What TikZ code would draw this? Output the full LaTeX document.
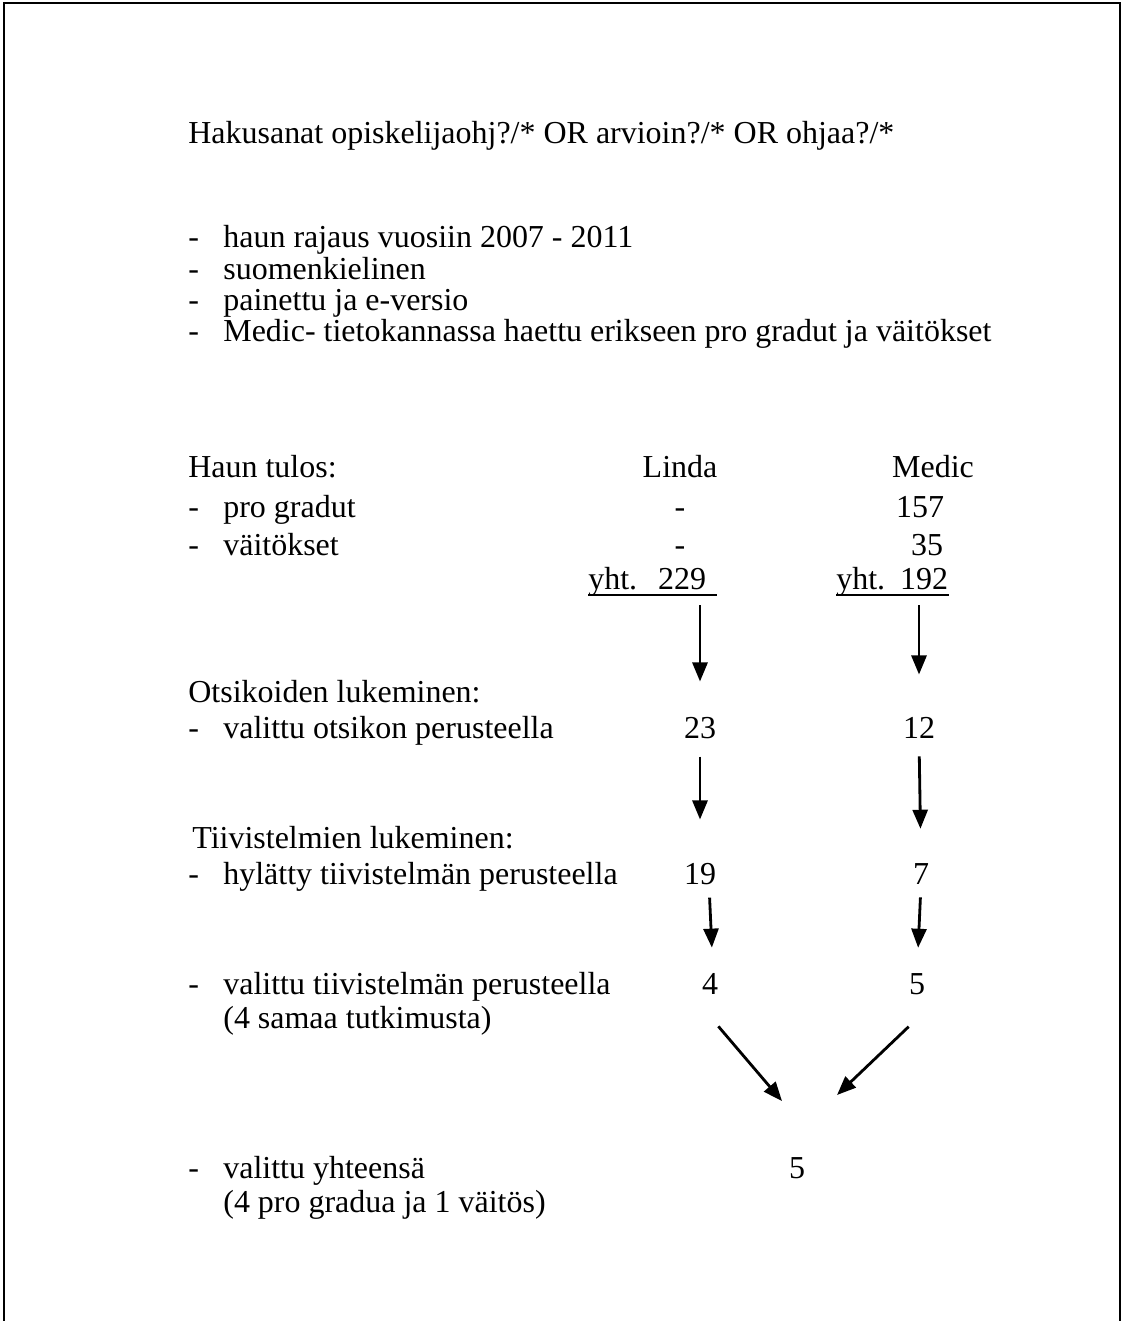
\documentclass[tikz,border=0pt]{standalone}
\usepackage{fontspec}
\setmainfont{Liberation Serif}
\usetikzlibrary{arrows.meta}
\tikzstyle{arrow} = [line width=1.6pt,-{Triangle[length=0.38cm,width=0.3cm]}]
\tikzstyle{lft} = [anchor=base west]
\tikzstyle{num} = [anchor=base]
\tikzstyle{uline} = [line width=1pt]

\begin{document}
\begin{tikzpicture}[x=0.02cm, y=-0.02cm,
  every node/.style={inner sep=0pt, font=\fontsize{18.2}{21}\selectfont}]
\useasboundingbox (0,0) rectangle (1123,1321);
\draw [line width=1.6pt] (4,1321) -- (4,3) -- (1120,3) -- (1120,1321);

% search terms and limits
\node[lft] (hak) at (188,144) {Hakusanat opiskelijaohj?/* OR arvioin?/* OR ohjaa?/*};
\node[lft] (d1) at (188,247) {-};
\node[lft] (r1) at (223,247) {haun rajaus vuosiin 2007 - 2011};
\node[lft] (d2) at (188,279) {-};
\node[lft] (r2) at (223,279) {suomenkielinen};
\node[lft] (d3) at (188,310) {-};
\node[lft] (r3) at (223,310) {painettu ja e-versio};
\node[lft] (d4) at (188,341) {-};
\node[lft] (r4) at (223,341) {Medic- tietokannassa haettu erikseen pro gradut ja väitökset};

% results
\node[lft] (tulos) at (188,477) {Haun tulos:};
\node[num] (linda) at (680,477) {Linda};
\node[num] (medic) at (933,477) {Medic};
\node[lft] (d5) at (188,517) {-};
\node[lft] (pg) at (223,517) {pro gradut};
\node[num] (lpg) at (680,517) {-};
\node[num] (mpg) at (920,517) {157};
\node[lft] (d6) at (188,555) {-};
\node[lft] (vt) at (223,555) {väitökset};
\node[num] (lvt) at (680,555) {-};
\node[num] (mvt) at (927,555) {35};
\node[lft] (lsum) at (588,589) {yht.\kern0.42cm 229\kern0.2cm};
\node[lft] (msum) at (836,589) {yht.\kern0.3cm 192};
\draw [uline] ([yshift=-0.12cm]lsum.base west) -- ([yshift=-0.12cm]lsum.base east);
\draw [uline] ([yshift=-0.12cm]msum.base west) -- ([yshift=-0.12cm]msum.base east);

% titles
\node[lft] (ots) at (188,702) {Otsikoiden lukeminen:};
\node[lft] (d7) at (188,738) {-};
\node[lft] (vo) at (223,738) {valittu otsikon perusteella};
\node[num] (l23) at (700,738) {23};
\node[num] (m12) at (919,738) {12};

% abstracts
\node[lft] (tiiv) at (192,848) {Tiivistelmien lukeminen:};
\node[lft] (d8) at (188,884) {-};
\node[lft] (hy) at (223,884) {hylätty tiivistelmän perusteella};
\node[num] (l19) at (700,884) {19};
\node[num] (m7) at (921,884) {7};
\node[lft] (d9) at (188,994) {-};
\node[lft] (vtv) at (223,994) {valittu tiivistelmän perusteella};
\node[lft] (sama) at (223,1028) {(4 samaa tutkimusta)};
\node[num] (l4) at (710,994) {4};
\node[num] (m5) at (917,994) {5};

% total
\node[lft] (d10) at (188,1178) {-};
\node[lft] (vy) at (223,1178) {valittu yhteensä};
\node[lft] (gr) at (223,1212) {(4 pro gradua ja 1 väitös)};
\node[num] (t5) at (797,1178) {5};

\coordinate (jl) at (782,1101);
\coordinate (jr) at (837,1095);

\draw [arrow, shorten <=0.18cm, shorten >=0.7cm] (l23 |- lsum.south) -- (l23.north);
\draw [arrow, shorten <=0.18cm, shorten >=0.84cm] (m12 |- msum.south) -- (m12.north);
\draw [arrow, shorten <=0.36cm, shorten >=0.86cm] (l23.south) -- (l19.north);
\draw [arrow, shorten <=0.36cm, shorten >=0.68cm] (m12.south) -- (m7.north);
\draw [arrow, shorten <=0.26cm, shorten >=0.5cm] ([xshift=0.18cm]l19.south) -- ([xshift=0.06cm]l4.north);
\draw [arrow, shorten <=0.26cm, shorten >=0.5cm] (m7.south) -- (m5.north);
\draw [arrow] ([yshift=-0.64cm]l4.south east) -- (jl);
\draw [arrow] ([yshift=-0.64cm]m5.south west) -- (jr);
\end{tikzpicture}
\end{document}
